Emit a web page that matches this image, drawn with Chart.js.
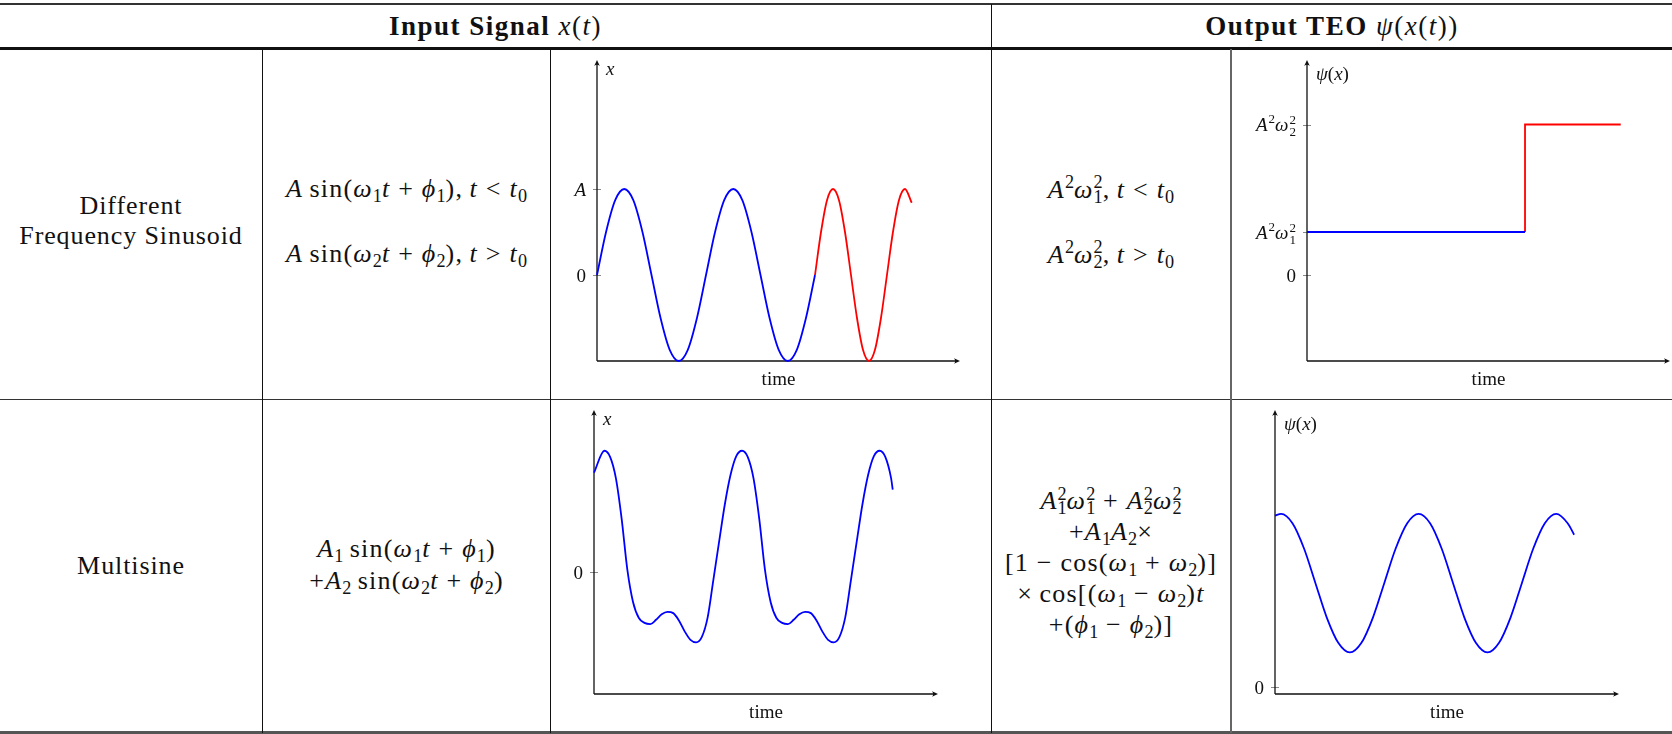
<!DOCTYPE html>
<html>
<head>
<meta charset="utf-8">
<script src="https://cdn.jsdelivr.net/npm/chart.js@4"></script>
<style>
  body { margin: 0; background: #fff; }
  #page { position: relative; width: 1672px; height: 734px; overflow: hidden;
          font-family: "Liberation Serif", "DejaVu Serif", serif; color: #111; }
  .rule { position: absolute; background: #111; }
  .cell { position: absolute; display: flex; flex-direction: column; align-items: center;
          justify-content: center; text-align: center; font-size: 26px; line-height: 31px;
          letter-spacing: 0.9px; white-space: nowrap; }
  .cell.hdr { font-size: 27px; letter-spacing: 1.5px; }
  .cell.math { letter-spacing: 1.2px; }
  .cell i { font-style: italic; }
  .op { margin: 0 0.3em; }
  sub, sup { font-size: 0.7em; line-height: 0; position: relative; vertical-align: baseline; letter-spacing: 0; }
  sup { top: -0.5em; }
  sub { top: 0.3em; }
  .ss sub { margin-left: -0.5em; }
  .chart { position: absolute; }
</style>
</head>
<body>
<div id="page">
  <!-- table rules -->
  <div class="rule" style="left:0;top:3px;width:1672px;height:2px;background:#333"></div>
  <div class="rule" style="left:0;top:47px;width:1672px;height:3px"></div>
  <div class="rule" style="left:0;top:399px;width:1672px;height:1px;background:#333"></div>
  <div class="rule" style="left:0;top:731px;width:1672px;height:3px;background:#555"></div>
  <div class="rule" style="left:262px;top:49px;width:1px;height:684px"></div>
  <div class="rule" style="left:550px;top:49px;width:1px;height:684px"></div>
  <div class="rule" style="left:991px;top:4px;width:1px;height:729px"></div>
  <div class="rule" style="left:1230px;top:49px;width:2px;height:684px;background:#666"></div>

  <!-- header -->
  <div class="cell hdr" style="left:0;top:5px;width:991px;height:42px">
    <div><b>Input Signal</b> <i>x</i>(<i>t</i>)</div>
  </div>
  <div class="cell hdr" style="left:992px;top:5px;width:680px;height:42px">
    <div><b>Output TEO</b> <i>ψ</i>(<i>x</i>(<i>t</i>))</div>
  </div>

  <!-- row 1 -->
  <div class="cell" style="left:0;top:46px;width:262px;height:349px;line-height:30px">
    <div>Different</div>
    <div>Frequency Sinusoid</div>
  </div>
  <div class="cell math" style="left:263px;top:46px;width:287px;height:349px">
    <div><i>A</i>&thinsp;sin(<i>ω</i><sub>1</sub><i>t</i><span class="op">+</span><i>ϕ</i><sub>1</sub>),&thinsp;<i>t</i><span class="op">&lt;</span><i>t</i><sub>0</sub></div>
    <div style="margin-top:34px"><i>A</i>&thinsp;sin(<i>ω</i><sub>2</sub><i>t</i><span class="op">+</span><i>ϕ</i><sub>2</sub>),&thinsp;<i>t</i><span class="op">&gt;</span><i>t</i><sub>0</sub></div>
  </div>
  <div class="cell math" style="left:992px;top:47px;width:238px;height:349px">
    <div><i>A</i><sup>2</sup><i>ω</i><span class="ss"><sup>2</sup><sub>1</sub></span>,&thinsp;<i>t</i><span class="op">&lt;</span><i>t</i><sub>0</sub></div>
    <div style="margin-top:34px"><i>A</i><sup>2</sup><i>ω</i><span class="ss"><sup>2</sup><sub>2</sub></span>,&thinsp;<i>t</i><span class="op">&gt;</span><i>t</i><sub>0</sub></div>
  </div>

  <!-- row 2 -->
  <div class="cell" style="left:0;top:400px;width:262px;height:331px">
    <div>Multisine</div>
  </div>
  <div class="cell math" style="left:263px;top:399px;width:287px;height:331px;line-height:32px">
    <div><i>A</i><sub>1</sub>&thinsp;sin(<i>ω</i><sub>1</sub><i>t</i><span class="op">+</span><i>ϕ</i><sub>1</sub>)</div>
    <div>+<i>A</i><sub>2</sub>&thinsp;sin(<i>ω</i><sub>2</sub><i>t</i><span class="op">+</span><i>ϕ</i><sub>2</sub>)</div>
  </div>
  <div class="cell math" style="left:992px;top:397px;width:238px;height:331px;line-height:31px">
    <div><i>A</i><span class="ss"><sup>2</sup><sub>1</sub></span><i>ω</i><span class="ss"><sup>2</sup><sub>1</sub></span><span class="op">+</span><i>A</i><span class="ss"><sup>2</sup><sub>2</sub></span><i>ω</i><span class="ss"><sup>2</sup><sub>2</sub></span></div>
    <div>+<i>A</i><sub>1</sub><i>A</i><sub>2</sub>×</div>
    <div>[1<span class="op">−</span>cos(<i>ω</i><sub>1</sub><span class="op">+</span><i>ω</i><sub>2</sub>)]</div>
    <div>×&thinsp;cos[(<i>ω</i><sub>1</sub><span class="op">−</span><i>ω</i><sub>2</sub>)<i>t</i></div>
    <div>+(<i>ϕ</i><sub>1</sub><span class="op">−</span><i>ϕ</i><sub>2</sub>)]</div>
  </div>

  <!-- plots -->
  <div class="chart" style="left:551px;top:50px;width:440px;height:348px"><canvas id="sine-chart" width="440" height="348"></canvas></div>
  <div class="chart" style="left:1232px;top:50px;width:440px;height:348px"><canvas id="step-chart" width="440" height="348"></canvas></div>
  <div class="chart" style="left:551px;top:400px;width:440px;height:331px"><canvas id="multi-chart" width="440" height="331"></canvas></div>
  <div class="chart" style="left:1232px;top:400px;width:440px;height:331px"><canvas id="multi-teo-chart" width="440" height="331"></canvas></div>
</div>

<script>
// Different frequency sinusoid, before t0 (blue) and after t0 (red)
const sineTimeBefore = [0, 0.083, 0.167, 0.25, 0.333, 0.417, 0.5, 0.583, 0.667, 0.75, 0.833, 0.917,
  1, 1.083, 1.167, 1.25, 1.333, 1.417, 1.5, 1.583, 1.667, 1.75, 1.833, 1.917, 2];
const sineValueBefore = [0, 0.5, 0.87, 1, 0.87, 0.5, 0, -0.5, -0.87, -1, -0.87, -0.5,
  0, 0.5, 0.87, 1, 0.87, 0.5, 0, -0.5, -0.87, -1, -0.87, -0.5, 0];
const sineTimeAfter = [2, 2.055, 2.11, 2.165, 2.22, 2.275, 2.33, 2.385, 2.44, 2.495, 2.55, 2.605,
  2.66, 2.715, 2.77, 2.825, 2.887];
const sineValueAfter = [0, 0.5, 0.87, 1, 0.87, 0.5, 0, -0.5, -0.87, -1, -0.87, -0.5,
  0, 0.5, 0.87, 1, 0.84];

// TEO of the sinusoid: A^2 w1^2 then A^2 w2^2
const stepTimeBefore = [0, 2];
const stepValueBefore = [1, 1];
const stepTimeAfter = [2, 2, 2.878];
const stepValueAfter = [1, 3.5, 3.5];

// Multisine signal
const multiTime = [0, 0.076, 0.117, 0.159, 0.201, 0.242, 0.284, 0.326, 0.367, 0.409, 0.451, 0.492,
  0.534, 0.576, 0.617, 0.659, 0.701, 0.742, 0.784, 0.826, 0.867, 0.909, 0.951, 0.992, 1.034,
  1.076, 1.117, 1.159, 1.201, 1.242, 1.284, 1.326, 1.367, 1.409, 1.451, 1.492, 1.534, 1.576,
  1.617, 1.659, 1.701, 1.742, 1.784, 1.826, 1.867, 1.909, 1.951, 1.992, 2.034, 2.076, 2.117,
  2.159, 2.171];
const multiValue = [1.64, 2.0, 1.9, 1.55, 0.88, 0.05, -0.49, -0.75, -0.83, -0.85, -0.78, -0.69,
  -0.65, -0.67, -0.79, -0.97, -1.11, -1.15, -1.06, -0.74, -0.13, 0.5, 1.12, 1.6, 1.91,
  2.0, 1.9, 1.55, 0.88, 0.05, -0.49, -0.75, -0.83, -0.85, -0.78, -0.69, -0.65, -0.67,
  -0.79, -0.97, -1.11, -1.15, -1.06, -0.74, -0.13, 0.5, 1.12, 1.6, 1.91, 2.0, 1.9,
  1.55, 1.36];

// TEO of the multisine
const multiTeoTime = [0, 0.044, 0.127, 0.211, 0.294, 0.377, 0.461, 0.544, 0.627, 0.711, 0.794,
  0.877, 0.961, 1.044, 1.127, 1.211, 1.294, 1.377, 1.461, 1.544, 1.627, 1.711, 1.794, 1.877,
  1.961, 2.044, 2.127, 2.174];
const multiTeoValue = [4.95, 5, 4.73, 4, 3, 2, 1.27, 1, 1.27, 2, 3, 4, 4.73, 5, 4.73, 4, 3, 2,
  1.27, 1, 1.27, 2, 3, 4, 4.73, 5, 4.73, 4.4];

// y ticks ('^' superscript, '_' subscript)
const sineTicks = [0, 1];
const sineTickLabels = ['0', 'A'];
const stepTicks = [0, 1, 3.5];
const stepTickLabels = ['0', 'A^2ω_1^2', 'A^2ω_2^2'];
const zeroTicks = [0];
const zeroTickLabels = ['0'];

const FAMILY = '"Liberation Serif", "DejaVu Serif", serif';
const BLUE = '#0000ff';
const RED = '#ff0000';

const pts = (xs, ys) => xs.map((x, i) => ({ x: x, y: ys[i] }));

// tiny math text: letters italic, digits roman, ^x / _x scripts (stacked if both)
function parseMath(src) {
  const chars = Array.from(src);
  const out = [];
  let i = 0;
  while (i < chars.length) {
    const tok = { base: chars[i], sup: null, sub: null };
    i++;
    while (i < chars.length && (chars[i] === '^' || chars[i] === '_')) {
      if (chars[i] === '^') tok.sup = chars[i + 1]; else tok.sub = chars[i + 1];
      i += 2;
    }
    out.push(tok);
  }
  return out;
}

function drawMath(ctx, src, x, y, size, align) {
  const toks = parseMath(src);
  const small = Math.round(size * 0.7) + 'px ' + FAMILY;
  const baseFont = c => (/[A-Za-z\u0370-\u03ff]/.test(c) ? 'italic ' : '') + size + 'px ' + FAMILY;
  const laid = toks.map(t => {
    ctx.font = baseFont(t.base);
    const bw = ctx.measureText(t.base).width;
    ctx.font = small;
    const sw = Math.max(t.sup ? ctx.measureText(t.sup).width : 0, t.sub ? ctx.measureText(t.sub).width : 0);
    return { t: t, bw: bw, w: bw + (sw ? sw + 1 : 0) };
  });
  const total = laid.reduce((s, l) => s + l.w, 0);
  let cx = align === 'right' ? x - total : align === 'center' ? x - total / 2 : x;
  ctx.textAlign = 'left';
  ctx.textBaseline = 'alphabetic';
  laid.forEach(l => {
    ctx.font = baseFont(l.t.base);
    ctx.fillText(l.t.base, cx, y);
    ctx.font = small;
    const both = l.t.sup && l.t.sub;
    if (l.t.sup) ctx.fillText(l.t.sup, cx + l.bw + 1, y - size * (both ? 0.36 : 0.4));
    if (l.t.sub) ctx.fillText(l.t.sub, cx + l.bw + (both ? 1 : 0), y + size * (both ? 0.27 : 0.17));
    cx += l.w;
  });
}

function arrowHead(ctx, x, y, dx, dy) {
  const len = 6, half = 2.8;
  const bx = x - dx * len, by = y - dy * len;
  ctx.beginPath();
  ctx.moveTo(x, y);
  ctx.lineTo(bx - dy * half, by + dx * half);
  ctx.quadraticCurveTo(x - dx * len * 0.6, y - dy * len * 0.6, bx + dy * half, by - dx * half);
  ctx.closePath();
  ctx.fill();
}

// axis lines with arrows, ticks, tick labels and axis titles
const axisDecor = {
  id: 'axisDecor',
  beforeDatasetsDraw(chart, args, opts) {
    const ctx = chart.ctx;
    const a = chart.chartArea;
    const yScale = chart.scales.y;
    ctx.save();
    ctx.strokeStyle = '#8a8a8a';
    ctx.lineWidth = 1;
    opts.ticks.forEach(v => {
      const py = Math.round(yScale.getPixelForValue(v)) + 0.5;
      ctx.beginPath();
      ctx.moveTo(a.left - 4, py);
      ctx.lineTo(a.left + 4, py);
      ctx.stroke();
    });
    ctx.strokeStyle = '#111';
    ctx.fillStyle = '#111';
    ctx.lineWidth = 1.3;
    ctx.beginPath();
    ctx.moveTo(a.left, a.bottom);
    ctx.lineTo(a.left, a.top + 4);
    ctx.moveTo(a.left, a.bottom);
    ctx.lineTo(a.right - 4, a.bottom);
    ctx.stroke();
    arrowHead(ctx, a.left, a.top, 0, -1);
    arrowHead(ctx, a.right, a.bottom, 1, 0);
    opts.ticks.forEach((v, i) => {
      drawMath(ctx, opts.labels[i], a.left - 11, yScale.getPixelForValue(v) + 6.5, 19, 'right');
    });
    drawMath(ctx, opts.yTitle, a.left + 9, a.top + opts.yTitleDy, 19, 'left');
    ctx.font = '19px ' + FAMILY;
    ctx.textAlign = 'center';
    ctx.fillText('time', (a.left + a.right) / 2, a.bottom + 24);
    ctx.restore();
  }
};

function line(data, color, smooth) {
  return {
    data: data,
    borderColor: color,
    borderWidth: 1.8,
    pointRadius: 0,
    fill: false,
    clip: false,
    cubicInterpolationMode: smooth ? 'monotone' : 'default',
    tension: 0
  };
}

function makeChart(id, datasets, xMax, yMin, yMax, padding, decor) {
  return new Chart(document.getElementById(id).getContext('2d'), {
    type: 'line',
    data: { datasets: datasets },
    options: {
      responsive: false,
      animation: false,
      events: [],
      layout: { padding: padding },
      scales: {
        x: { type: 'linear', min: 0, max: xMax, display: false },
        y: { type: 'linear', min: yMin, max: yMax, display: false }
      },
      plugins: { legend: { display: false }, tooltip: { enabled: false }, axisDecor: decor }
    },
    plugins: [axisDecor]
  });
}

makeChart('sine-chart',
  [line(pts(sineTimeBefore, sineValueBefore), BLUE, true), line(pts(sineTimeAfter, sineValueAfter), RED, true)],
  3.33, -1, 2.5, { left: 46, top: 10, right: 31, bottom: 37 },
  { ticks: sineTicks, labels: sineTickLabels, yTitle: 'x', yTitleDy: 15 });

makeChart('step-chart',
  [line(pts(stepTimeBefore, stepValueBefore), BLUE, false), line(pts(stepTimeAfter, stepValueAfter), RED, false)],
  3.33, -2, 5, { left: 75, top: 10, right: 2, bottom: 37 },
  { ticks: stepTicks, labels: stepTickLabels, yTitle: 'ψ(x)', yTitleDy: 20 });

makeChart('multi-chart',
  [line(pts(multiTime, multiValue), BLUE, true)],
  2.5, -2, 2.67, { left: 43, top: 10, right: 53, bottom: 37 },
  { ticks: zeroTicks, labels: zeroTickLabels, yTitle: 'x', yTitleDy: 15 });

makeChart('multi-teo-chart',
  [line(pts(multiTeoTime, multiTeoValue), BLUE, true)],
  2.5, -0.2, 8, { left: 43, top: 10, right: 53, bottom: 37 },
  { ticks: zeroTicks, labels: zeroTickLabels, yTitle: 'ψ(x)', yTitleDy: 20 });
</script>
</body>
</html>
